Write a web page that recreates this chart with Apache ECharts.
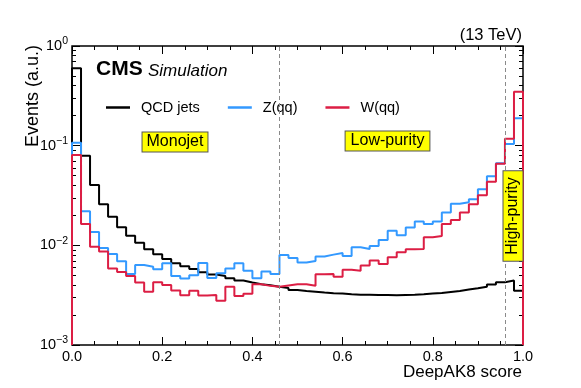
<!DOCTYPE html>
<html>
<head>
<meta charset="utf-8">
<script src="https://cdn.jsdelivr.net/npm/echarts@6/dist/echarts.min.js"></script>
<style>
  html, body { margin: 0; padding: 0; background: #fff; }
  #chart { width: 581px; height: 388px; }
</style>
</head>
<body>
<div id="chart"></div>
<script>
// bin lower edges (width 0.02), last entry is the upper edge of the last bin
var binEdges = [0.00, 0.02, 0.04, 0.06, 0.08, 0.10, 0.12, 0.14, 0.16, 0.18,
                0.20, 0.22, 0.24, 0.26, 0.28, 0.30, 0.32, 0.34, 0.36, 0.38,
                0.40, 0.42, 0.44, 0.46, 0.48, 0.50, 0.52, 0.54, 0.56, 0.58,
                0.60, 0.62, 0.64, 0.66, 0.68, 0.70, 0.72, 0.74, 0.76, 0.78,
                0.80, 0.82, 0.84, 0.86, 0.88, 0.90, 0.92, 0.94, 0.96, 0.98, 1.00];

var seriesNames = ['QCD jets', 'Z(qq)', 'W(qq)'];
var seriesColors = ['#000000', '#3399ff', '#dc1e44'];

// QCD jets
var qcdValues = [0.597, 0.0794, 0.0403, 0.0258, 0.0194, 0.0152, 0.0125, 0.0106, 0.00914, 0.00814,
                 0.00731, 0.00662, 0.00617, 0.00580, 0.00538, 0.00511, 0.00493, 0.00468, 0.00443, 0.00423,
                 0.00407, 0.00398, 0.00385, 0.00374, 0.00357, 0.00349, 0.00343, 0.00336, 0.00331, 0.00328,
                 0.00323, 0.00320, 0.00320, 0.00318, 0.00318, 0.00316, 0.00318, 0.00320, 0.00323, 0.00328,
                 0.00333, 0.00341, 0.00349, 0.00360, 0.00371, 0.00385, 0.00404, 0.00427, 0.00443, 0.00351];

// Z(qq)
var zValues = [0.107, 0.0220, 0.01362, 0.00942, 0.00817, 0.00693, 0.00517, 0.00635, 0.00611, 0.00577,
               0.00661, 0.00493, 0.00466, 0.00501, 0.00663, 0.00471, 0.00525, 0.00586, 0.00661, 0.00557,
               0.00468, 0.00545, 0.00517, 0.00801, 0.00748, 0.00671, 0.00698, 0.00771, 0.00807, 0.00839,
               0.00783, 0.00957, 0.00920, 0.00986, 0.01133, 0.01403, 0.01262, 0.01513, 0.01730, 0.01640,
               0.01730, 0.02138, 0.02620, 0.02712, 0.02899, 0.03655, 0.04933, 0.06655, 0.1040, 0.1882];

// W(qq)
var wValues = [0.0807, 0.01633, 0.00970, 0.00865, 0.00584, 0.00541, 0.00493, 0.00423, 0.00343, 0.00425,
               0.00401, 0.00353, 0.00315, 0.00351, 0.00313, 0.00318, 0.00278, 0.00385, 0.00311, 0.00326,
               0.00407, 0.00392, 0.00385, 0.00396, 0.00407, 0.00407, 0.00394, 0.00513, 0.00517, 0.00485,
               0.00570, 0.00557, 0.00626, 0.00703, 0.00650, 0.00760, 0.00853, 0.00914, 0.00920, 0.01206,
               0.01243, 0.01640, 0.01798, 0.02138, 0.02590, 0.03184, 0.04355, 0.06597, 0.1175, 0.3482];

var yMin = 0.001, yMax = 1;
var yMinorTicks = [0.002, 0.003, 0.004, 0.005, 0.006, 0.007, 0.008, 0.009,
                   0.02, 0.03, 0.04, 0.05, 0.06, 0.07, 0.08, 0.09,
                   0.2, 0.3, 0.4, 0.5, 0.6, 0.7, 0.8, 0.9];
var yMajorTicks = [0.001, 0.01, 0.1, 1];
var categoryCuts = [0.46, 0.96];

var FONT = 'Liberation Sans';

// histogram as a step line, closed down to the axis at both ends
function histData(values) {
    var pts = [[binEdges[0], yMin]];
    for (var i = 0; i < values.length; i++) {
        pts.push([binEdges[i], values[i]]);
    }
    pts.push([binEdges[binEdges.length - 1], values[values.length - 1]]);
    pts.push([binEdges[binEdges.length - 1], yMin]);
    return pts;
}

function powLabel(v) {
    var e = Math.round(Math.log10(v));
    return '{b|10}{s|' + (e === 0 ? '0' : '\u2212' + (-e)) + '}';
}

var allValues = [qcdValues, zValues, wValues];
var series = [];
for (var k = 0; k < seriesNames.length; k++) {
    series.push({
        name: seriesNames[k],
        type: 'line',
        step: 'end',
        symbol: 'none',
        data: histData(allValues[k]),
        lineStyle: { color: seriesColors[k], width: 2 },
        itemStyle: { color: seriesColors[k] },
        animation: false
    });
}
series[2].markLine = {
    symbol: 'none',
    silent: true,
    label: { show: false },
    lineStyle: { color: '#8a8a8a', type: [4, 3], width: 1 },
    data: categoryCuts.map(function (c) { return { xAxis: c }; })
};

var chart = echarts.init(document.getElementById('chart'));
var tickLine = { color: '#000', width: 1 };

chart.setOption({
    animation: false,
    grid: { left: 72, top: 46, width: 451, height: 299, show: true, borderColor: '#000', borderWidth: 1.5, backgroundColor: 'transparent' },
    legend: {
        data: seriesNames,
        left: 101, top: 95,
        icon: 'rect', itemWidth: 24, itemHeight: 2.5, itemGap: 28,
        textStyle: { fontFamily: FONT, fontSize: 14.5, color: '#000', padding: [0, 0, 0, 6] }
    },
    xAxis: [{
        type: 'value', min: 0, max: 1, interval: 0.2,
        axisLine: { show: false },
        axisTick: { inside: true, length: 8, lineStyle: tickLine },
        minorTick: { show: true, splitNumber: 4, length: 4, lineStyle: tickLine },
        splitLine: { show: false },
        axisLabel: { fontFamily: FONT, fontSize: 14.5, color: '#000', margin: 4,
            formatter: function (v) { return v.toFixed(1); } }
    }, {
        type: 'value', min: 0, max: 1, interval: 0.2, position: 'top',
        axisLine: { show: false },
        axisTick: { inside: true, length: 8, lineStyle: tickLine },
        minorTick: { show: true, splitNumber: 4, length: 4, lineStyle: tickLine },
        splitLine: { show: false },
        axisLabel: { show: false }
    }],
    yAxis: [{
        type: 'log', logBase: 10, min: yMin, max: yMax, position: 'left',
        axisLine: { show: false },
        axisTick: { inside: true, length: 8, lineStyle: tickLine, customValues: yMajorTicks },
        splitLine: { show: false },
        axisLabel: {
            customValues: yMajorTicks,
            margin: 4,
            formatter: powLabel,
            rich: {
                b: { fontFamily: FONT, fontSize: 14.5, color: '#000', lineHeight: 20 },
                s: { fontFamily: FONT, fontSize: 10.5, color: '#000', lineHeight: 8, verticalAlign: 'top' }
            }
        }
    }, {
        type: 'log', logBase: 10, min: yMin, max: yMax, position: 'left',
        axisLine: { show: false },
        axisTick: { inside: true, length: 4, lineStyle: tickLine, customValues: yMinorTicks },
        splitLine: { show: false },
        axisLabel: { show: false }
    }, {
        type: 'log', logBase: 10, min: yMin, max: yMax, position: 'right',
        axisLine: { show: false },
        axisTick: { inside: true, length: 8, lineStyle: tickLine, customValues: yMajorTicks },
        splitLine: { show: false },
        axisLabel: { show: false }
    }, {
        type: 'log', logBase: 10, min: yMin, max: yMax, position: 'right',
        axisLine: { show: false },
        axisTick: { inside: true, length: 4, lineStyle: tickLine, customValues: yMinorTicks },
        splitLine: { show: false },
        axisLabel: { show: false }
    }],
    series: series,
    graphic: [
        { type: 'text', x: 96, y: 69, style: { text: 'CMS', font: 'bold 21px ' + FONT, fill: '#000', align: 'left', verticalAlign: 'middle' } },
        { type: 'text', x: 148, y: 71, style: { text: 'Simulation', font: 'italic 17px ' + FONT, fill: '#000', align: 'left', verticalAlign: 'middle' } },
        { type: 'text', x: 522, y: 35, style: { text: '(13 TeV)', font: '16.5px ' + FONT, fill: '#000', align: 'right', verticalAlign: 'middle' } },
        { type: 'text', x: 33, y: 96, rotation: Math.PI / 2, style: { text: 'Events (a.u.)', font: '18px ' + FONT, fill: '#000', align: 'center', verticalAlign: 'middle' } },
        { type: 'text', x: 522, y: 372, style: { text: 'DeepAK8 score', font: '17px ' + FONT, fill: '#000', align: 'right', verticalAlign: 'middle' } },
        { type: 'text', x: 175, y: 142, z: 10, style: { text: 'Monojet', font: '16px ' + FONT, fill: '#000', align: 'center', verticalAlign: 'middle',
            backgroundColor: '#ffff00', borderColor: '#555', borderWidth: 1, padding: [2, 4, 1, 4] } },
        { type: 'text', x: 387.5, y: 141, z: 10, style: { text: 'Low-purity', font: '16px ' + FONT, fill: '#000', align: 'center', verticalAlign: 'middle',
            backgroundColor: '#ffff00', borderColor: '#555', borderWidth: 1, padding: [2, 5, 1, 5] } },
        { type: 'text', x: 513, y: 216, z: 10, rotation: Math.PI / 2, style: { text: 'High-purity', font: '16px ' + FONT, fill: '#000', align: 'center', verticalAlign: 'middle',
            backgroundColor: '#ffff00', borderColor: '#555', borderWidth: 1, padding: [2, 6, 1, 6] } }
    ]
});
</script>
</body>
</html>
